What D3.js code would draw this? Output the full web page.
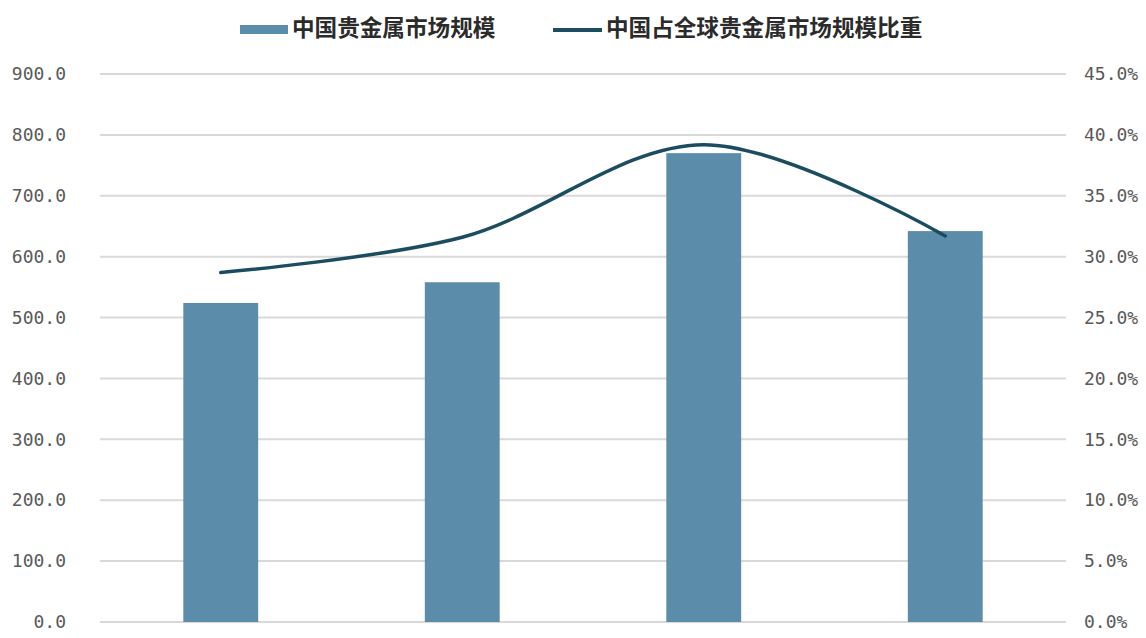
<!DOCTYPE html>
<html>
<head>
<meta charset="utf-8">
<script src="https://cdn.jsdelivr.net/npm/d3@7"></script>
<style>
html,body{margin:0;padding:0;background:#fff;overflow:hidden;}
svg{display:block;}
</style>
</head>
<body>
<svg id="chart" width="1146" height="638"></svg>
<script>
// Category names are cut off below the photographed area in the reference; they only drive the band scale here.
const categories = ["2016年", "2017年", "2018年", "2019年"];
const marketSize = [524, 558, 770, 642];
const globalShare = [28.7, 31.6, 39.2, 31.7];
const leftTicks = [0, 100, 200, 300, 400, 500, 600, 700, 800, 900];
const rightTicks = [0, 5, 10, 15, 20, 25, 30, 35, 40, 45];
const seriesNames = ["中国贵金属市场规模", "中国占全球贵金属市场规模比重"];

(function () {
const svg = d3.select("#chart");
const pLeft = 100, pRight = 1066, pTop = 74, pBottom = 622;
const barColor = "#5b8dab", lineColor = "#1c4c5f", gridColor = "#d9d9d9", textColor = "#595959";
const tickFont = "'DejaVu Sans Mono', 'Liberation Mono', monospace";

const x = d3.scaleBand().domain(categories).range([pLeft, pRight]).paddingInner(0.69).paddingOuter(0.345);
const y = d3.scaleLinear().domain([0, 900]).range([pBottom, pTop]);
const y2 = d3.scaleLinear().domain([0, 45]).range([pBottom, pTop]);

// gridlines
svg.append("g").selectAll("line").data(leftTicks).join("line")
  .attr("x1", pLeft).attr("x2", pRight)
  .attr("y1", d => y(d)).attr("y2", d => y(d))
  .attr("stroke", gridColor).attr("stroke-width", 2);

// left axis
const la = svg.append("g").attr("transform", `translate(${pLeft - 34},0)`)
  .call(d3.axisLeft(y).tickValues(leftTicks).tickFormat(d3.format(".1f")).tickSize(0).tickPadding(0));
la.select(".domain").remove();
la.selectAll("text").attr("font-family", tickFont).attr("font-size", 18).attr("fill", textColor);

// right axis
const ra = svg.append("g").attr("transform", `translate(${pRight + 18},0)`)
  .call(d3.axisRight(y2).tickValues(rightTicks).tickFormat(d => d3.format(".1f")(d) + "%").tickSize(0).tickPadding(0));
ra.select(".domain").remove();
ra.selectAll("text").attr("font-family", tickFont).attr("font-size", 18).attr("fill", textColor);

// bars
svg.append("g").selectAll("rect").data(categories).join("rect")
  .attr("x", d => x(d)).attr("width", x.bandwidth())
  .attr("y", (d, i) => y(marketSize[i])).attr("height", (d, i) => pBottom - y(marketSize[i]))
  .attr("fill", barColor);

// line
const line = d3.line()
  .x((d, i) => x(categories[i]) + x.bandwidth() / 2)
  .y(d => y2(d))
  .curve(d3.curveCatmullRom.alpha(0.5));
svg.append("path").datum(globalShare).attr("d", line)
  .attr("fill", "none").attr("stroke", lineColor).attr("stroke-width", 3.5).attr("stroke-linecap", "round");

// legend
const lg = svg.append("g").attr("font-family", "'Noto Sans CJK SC', sans-serif").attr("font-size", 22.6).attr("fill", "#2b2b2b");
lg.append("rect").attr("x", 240).attr("y", 25).attr("width", 48).attr("height", 9).attr("fill", barColor);
lg.append("text").attr("x", 292).attr("y", 30).attr("dominant-baseline", "middle").attr("font-weight", 600).text(seriesNames[0]);
lg.append("line").attr("x1", 553).attr("x2", 602).attr("y1", 30).attr("y2", 30).attr("stroke", lineColor).attr("stroke-width", 4);
lg.append("text").attr("x", 606).attr("y", 30).attr("dominant-baseline", "middle").attr("font-weight", 600).text(seriesNames[1]);
})();
</script>
</body>
</html>
